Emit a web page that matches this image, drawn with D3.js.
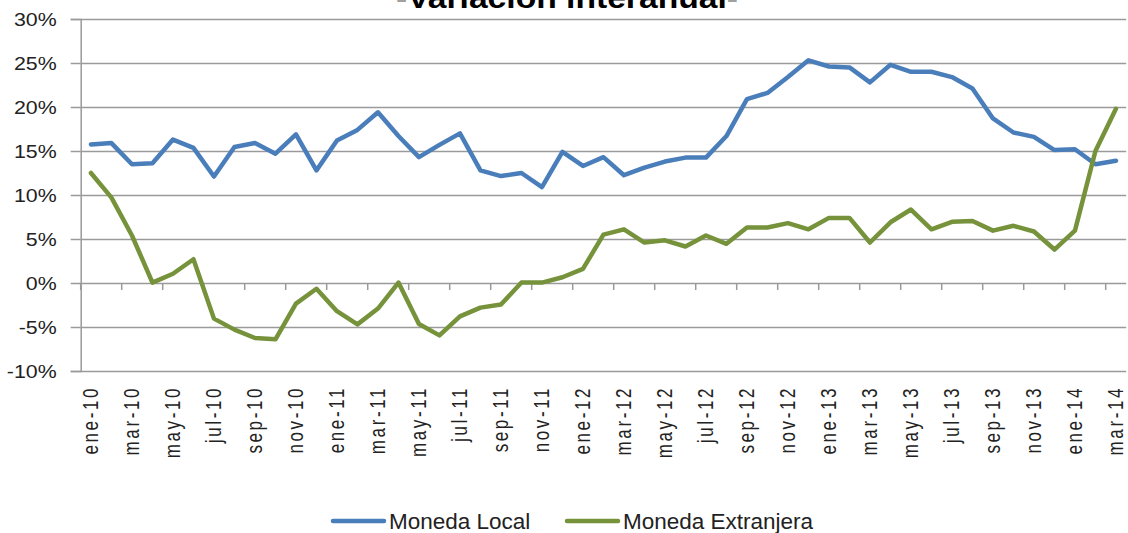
<!DOCTYPE html>
<html lang="es">
<head>
<meta charset="UTF-8">
<title>Variación interanual</title>
<style>
  body { margin: 0; background: #fff; }
  svg { display: block; }
</style>
</head>
<body>
<script src="https://cdn.jsdelivr.net/npm/d3@7"></script>
<script>
// categorias (meses)
var months = [
  "ene-10","feb-10","mar-10","abr-10","may-10","jun-10","jul-10","ago-10","sep-10","oct-10","nov-10","dic-10",
  "ene-11","feb-11","mar-11","abr-11","may-11","jun-11","jul-11","ago-11","sep-11","oct-11","nov-11","dic-11",
  "ene-12","feb-12","mar-12","abr-12","may-12","jun-12","jul-12","ago-12","sep-12","oct-12","nov-12","dic-12",
  "ene-13","feb-13","mar-13","abr-13","may-13","jun-13","jul-13","ago-13","sep-13","oct-13","nov-13","dic-13",
  "ene-14","feb-14","mar-14"
];

// Moneda Local (%)
var local = [
  15.75, 15.9, 13.5, 13.6, 16.3, 15.35, 12.1, 15.45, 15.9, 14.7, 16.9, 12.8,
  16.2, 17.4, 19.4, 16.7, 14.3, 15.7, 17.0, 12.8, 12.15, 12.5, 10.9, 14.9,
  13.3, 14.3, 12.25, 13.1, 13.8, 14.25, 14.25, 16.7, 20.9, 21.6, 23.4, 25.3,
  24.6, 24.5, 22.8, 24.8, 24.0, 24.0, 23.4, 22.1, 18.7, 17.1, 16.6, 15.1,
  15.2, 13.5, 13.9
];

// Moneda Extranjera (%)
var extranjera = [
  12.5, 9.7, 5.4, 0.05, 1.05, 2.7, -4.05, -5.3, -6.25, -6.4, -2.35, -0.65,
  -3.2, -4.7, -2.9, 0.05, -4.65, -5.95, -3.8, -2.8, -2.45, 0.05, 0.05, 0.65,
  1.6, 5.5, 6.1, 4.6, 4.85, 4.15, 5.4, 4.45, 6.3, 6.3, 6.8, 6.1,
  7.4, 7.4, 4.6, 6.9, 8.35, 6.1, 6.95, 7.05, 5.95, 6.5, 5.85, 3.8,
  5.95, 15.0, 19.8
];

var yTicks = [-10, -5, 0, 5, 10, 15, 20, 25, 30];
var seriesNames = ["Moneda Local", "Moneda Extranjera"];
var colors = ["#4a7ebb", "#76933c"];

var W = 1128, H = 533;
var plotLeft = 80.7, plotRight = 1126.2, plotTop = 19, plotBottom = 371;

var svg = d3.select("body").append("svg").attr("width", W).attr("height", H);

var x = d3.scaleBand().domain(months).range([plotLeft, plotRight]).padding(0);
var y = d3.scaleLinear().domain([-10, 30]).range([plotBottom, plotTop]);
var cx = function (m) { return x(m) + x.bandwidth() / 2; };

// lineas de la grilla + eje Y
var yAxis = svg.append("g")
  .attr("transform", "translate(" + plotLeft + ",0)")
  .call(d3.axisLeft(y).tickValues(yTicks).tickSize(10).tickFormat(function (d) { return d + "%"; }));
yAxis.select(".domain").attr("stroke", "#9a9a9a").attr("stroke-width", 1.5);
yAxis.selectAll(".tick line").attr("stroke", "#9a9a9a").attr("stroke-width", 1.5);
yAxis.selectAll(".tick").append("line")
  .attr("x1", 0).attr("x2", plotRight - plotLeft)
  .attr("stroke", "#9a9a9a").attr("stroke-width", 1.5);
yAxis.selectAll(".tick text")
  .attr("x", null)
  .attr("transform", "translate(-24,0) scale(1.22,1)")
  .attr("dy", "0.36em")
  .attr("text-anchor", "end")
  .style("font-family", "'Liberation Sans', Arial, sans-serif")
  .style("font-size", "17.5px")
  .attr("fill", "#222");

// marcas del eje X (cada 2 meses, entre categorias)
var tickMonths = months.filter(function (d, i) { return i % 2 === 0; });
svg.append("g").selectAll("line")
  .data(tickMonths)
  .join("line")
  .attr("x1", function (d) { return x(d); })
  .attr("x2", function (d) { return x(d); })
  .attr("y1", y(0)).attr("y2", y(0) + 7)
  .attr("stroke", "#9a9a9a").attr("stroke-width", 1.5);

// etiquetas del eje X
var xAxis = svg.append("g")
  .attr("transform", "translate(0," + plotBottom + ")")
  .call(d3.axisBottom(x).tickValues(tickMonths).tickSize(0));
xAxis.select(".domain").remove();
xAxis.selectAll(".tick text")
  .attr("y", null)
  .attr("transform", "translate(-1,15) scale(1.3,1) rotate(-90)")
  .attr("dy", "0.36em")
  .attr("text-anchor", "end")
  .style("font-family", "'Liberation Sans', Arial, sans-serif")
  .style("font-size", "17px")
  .style("letter-spacing", "2.6px")
  .attr("fill", "#222");

// series
var line = d3.line()
  .x(function (d, i) { return cx(months[i]); })
  .y(function (d) { return y(d); });

[local, extranjera].forEach(function (s, k) {
  svg.append("path")
    .datum(s)
    .attr("d", line)
    .attr("fill", "none")
    .attr("stroke", colors[k])
    .attr("stroke-width", 4.5)
    .attr("stroke-linejoin", "round")
    .attr("stroke-linecap", "round");
});

// titulo (cortado arriba)
var title = svg.append("text")
  .attr("x", 567).attr("y", 8)
  .attr("text-anchor", "middle")
  .attr("textLength", 342).attr("lengthAdjust", "spacingAndGlyphs")
  .style("font-family", "'Liberation Sans', Arial, sans-serif")
  .style("font-size", "30px")
  .style("font-weight", "bold");
title.append("tspan").attr("fill", "#a0a0a0").text("-");
title.append("tspan").attr("fill", "#000").text("Variación interanual");
title.append("tspan").attr("fill", "#a0a0a0").text("-");

// leyenda
var legendX = [333, 567];
var legend = svg.append("g").selectAll("g")
  .data(seriesNames)
  .join("g")
  .attr("transform", function (d, i) { return "translate(" + legendX[i] + ",521)"; });
legend.append("line")
  .attr("x1", 0).attr("x2", 51)
  .attr("stroke", function (d, i) { return colors[i]; })
  .attr("stroke-width", 4.5)
  .attr("stroke-linecap", "round");
legend.append("text")
  .attr("x", 56).attr("dy", "0.36em")
  .style("font-family", "'Liberation Sans', Arial, sans-serif")
  .style("font-size", "22.5px")
  .attr("fill", "#222")
  .text(function (d) { return d; });
</script>
</body>
</html>
